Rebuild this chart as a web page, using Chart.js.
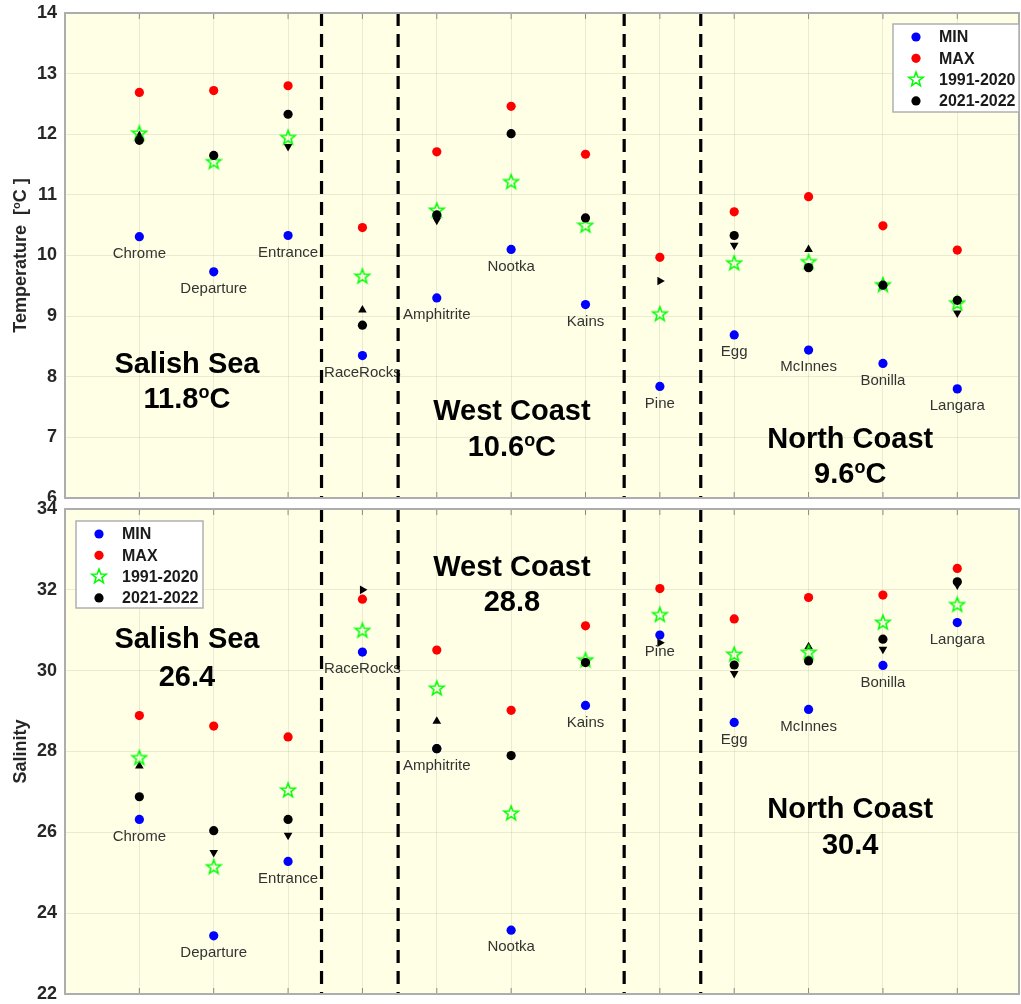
<!DOCTYPE html>
<html>
<head>
<meta charset="utf-8">
<script src="https://cdn.jsdelivr.net/npm/chart.js@4.4.0/dist/chart.umd.min.js"></script>
<style>
body{margin:0;background:#fff;overflow:hidden;}
canvas{display:block;}
</style>
</head>
<body>
<canvas id="tempChart" width="1021" height="501"></canvas>
<canvas id="salChart" width="1021" height="503"></canvas>
<script>
// Stations along the x axis (1..12)
const stations = ['Chrome','Departure','Entrance','RaceRocks','Amphitrite','Nootka','Kains','Pine','Egg','McInnes','Bonilla','Langara'];
const dividers = [3.45, 4.48, 7.52, 8.55];
const regionNames = ['Salish Sea','West Coast','North Coast'];
const seriesNames = ['MIN','MAX','1991-2020','2021-2022'];

// Temperature [oC]
const tempTicks = [6,7,8,9,10,11,12,13,14];
const tempMin = [10.31, 9.73, 10.33, 8.35, 9.30, 10.10, 9.19, 7.84, 8.69, 8.44, 8.22, 7.80];
const tempMax = [12.69, 12.72, 12.80, 10.46, 11.71, 12.46, 11.67, 9.97, 10.72, 10.97, 10.49, 10.09];
const tempClim = [12.02, 11.55, 11.95, 9.66, 10.75, 11.22, 10.50, 9.04, 9.88, 9.90, 9.52, 9.22];
const tempRecent = [11.90, 11.65, 12.33, 8.85, 10.67, 12.01, 10.62, null, 10.33, 9.80, 9.51, 9.26];
const tempTrend = [11.98, null, 11.80, 9.10, 10.58, null, null, 9.58, 10.17, 10.10, null, 9.05];
const tempTrendDir = ['up', null, 'down', 'up', 'down', null, null, 'right', 'down', 'up', null, 'down'];
const tempRegionMeans = ['11.8', '10.6', '9.6'];

// Salinity
const salTicks = [22,24,26,28,30,32,34];
const salMin = [26.32, 23.44, 25.28, 30.46, 28.07, 23.58, 29.14, 30.88, 28.72, 29.04, 30.13, 31.19];
const salMax = [28.89, 28.63, 28.36, 31.77, 30.51, 29.02, 31.11, 32.03, 31.28, 31.81, 31.87, 32.53];
const salClim = [27.85, 25.15, 27.05, 31.00, 29.57, 26.48, 30.27, 31.39, 30.41, 30.46, 31.20, 31.64];
const salRecent = [26.88, 26.04, 26.32, null, 28.07, 27.90, 30.20, null, 30.14, 30.24, 30.78, 32.20];
const salTrend = [27.64, 25.50, 25.93, 32.00, 28.75, null, null, 30.69, 29.93, 30.59, 30.53, 32.12];
const salTrendDir = ['up', 'down', 'down', 'right', 'up', null, null, 'right', 'down', 'up', 'down', 'down'];
const salRegionMeans = ['26.4', '28.8', '30.4'];

const rotations = {up:0, down:180, right:90};
const textColor = '#262626';
const fontFamily = '"Liberation Sans", Arial, sans-serif';

function makeStar(){
  const c = document.createElement('canvas');
  c.width = 18; c.height = 18;
  const g = c.getContext('2d');
  g.beginPath();
  for(let i=0;i<10;i++){
    const r = i%2===0 ? 7.5 : 3.1;
    const a = -Math.PI/2 + i*Math.PI/5;
    g.lineTo(9 + r*Math.cos(a), 9.6 + r*Math.sin(a));
  }
  g.closePath();
  g.strokeStyle = '#00ff00';
  g.lineWidth = 1.5;
  g.stroke();
  return c;
}
const starImg = makeStar();

const pts = arr => arr.map((v,i)=>v==null?null:{x:i+1,y:v}).filter(Boolean);

function buildDatasets(min, max, clim, recent, trend, dir, yMin, yMax){
  const ds = [
    {label:'2021-2022', data:pts(recent), pointStyle:'circle', pointRadius:4.6, backgroundColor:'#000', borderColor:'#000', borderWidth:0, order:1},
    {label:'1991-2020', data:pts(clim), pointStyle:starImg, pointRadius:8, order:2},
    {label:'trend', data:trend.map((v,i)=>v==null?null:{x:i+1,y:v,dir:dir[i]}).filter(Boolean),
      pointStyle:'triangle', pointRadius:5, backgroundColor:'#000', borderColor:'#000', borderWidth:0,
      pointRotation:c=>rotations[c.raw.dir], order:3},
    {label:'MAX', data:pts(max), pointStyle:'circle', pointRadius:4.6, backgroundColor:'#ff0000', borderColor:'#ff0000', borderWidth:0, order:4},
    {label:'MIN', data:pts(min), pointStyle:'circle', pointRadius:4.6, backgroundColor:'#0000ff', borderColor:'#0000ff', borderWidth:0, order:5}
  ];
  dividers.forEach(d=>{
    ds.push({label:'divider', data:[{x:d,y:yMax},{x:d,y:yMin}], showLine:true, pointRadius:0,
      borderColor:'#000', borderWidth:3.2, borderDash:[13,8], order:6});
  });
  return ds;
}

// draw a string made of normal and raised parts, centred on x
function drawParts(ctx, parts, x, baseline, size, bold){
  const w = parts.reduce((s,p)=>{
    ctx.font = (bold?'bold ':'') + (p.sup?size*0.62:size) + 'px ' + fontFamily;
    return s + ctx.measureText(p.t).width;
  },0);
  let cx = x - w/2;
  ctx.textAlign = 'left';
  ctx.textBaseline = 'alphabetic';
  parts.forEach(p=>{
    ctx.font = (bold?'bold ':'') + (p.sup?size*0.62:size) + 'px ' + fontFamily;
    ctx.fillText(p.t, cx, p.sup ? baseline - size*0.36 : baseline);
    cx += ctx.measureText(p.t).width;
  });
}

const panelPlugin = {
  id:'panel',
  beforeDraw(chart, args, o){
    const {ctx, chartArea:a} = chart;
    ctx.save();
    ctx.fillStyle = '#ffffe6';
    ctx.fillRect(a.left, a.top, a.right-a.left, a.bottom-a.top);
    ctx.restore();
  },
  beforeDatasetsDraw(chart, args, o){
    const {ctx, scales:{x,y}} = chart;
    ctx.save();
    // station names under MIN markers
    ctx.fillStyle = '#333';
    ctx.font = '15px ' + fontFamily;
    ctx.textAlign = 'center';
    ctx.textBaseline = 'middle';
    stations.forEach((s,i)=>{
      ctx.fillText(s, x.getPixelForValue(i+1), y.getPixelForValue(o.mins[i]) + 17);
    });
    // region names + means
    ctx.fillStyle = '#000';
    regionNames.forEach((r,i)=>{
      const p = o.regionPos[i];
      const px = x.getPixelForValue(p[0]);
      const py1 = y.getPixelForValue(p[1]);
      const py2 = y.getPixelForValue(p[2]);
      drawParts(ctx, [{t:r}], px, py1 + 10, 29, true);
      const parts = o.unit ? [{t:o.means[i]},{t:'o',sup:true},{t:'C'}] : [{t:o.means[i]}];
      drawParts(ctx, parts, px, py2 + 10, 29, true);
    });
    ctx.restore();
  },
  afterDraw(chart, args, o){
    const {ctx, chartArea:a, scales:{x}} = chart;
    ctx.save();
    // inward tick marks
    ctx.strokeStyle = '#8a8a8a';
    ctx.lineWidth = 1;
    stations.forEach((s,i)=>{
      const px = x.getPixelForValue(i+1);
      ctx.beginPath();
      ctx.moveTo(px, a.bottom); ctx.lineTo(px, a.bottom-6);
      ctx.moveTo(px, a.top); ctx.lineTo(px, a.top+6);
      ctx.stroke();
    });
    // axes box
    ctx.strokeStyle = '#adadad';
    ctx.lineWidth = 2;
    ctx.strokeRect(a.left, a.top, a.right-a.left, a.bottom-a.top);
    // y title
    ctx.fillStyle = textColor;
    ctx.translate(20, (a.top+a.bottom)/2);
    ctx.rotate(-Math.PI/2);
    drawParts(ctx, o.title, 0, 6, 18, true);
    ctx.restore();

    // legend
    const L = o.legend;
    const bx = L.right ? a.right - L.w : a.left + L.dx;
    const by = a.top + L.dy;
    ctx.save();
    ctx.fillStyle = '#fff';
    ctx.fillRect(bx, by, L.w, L.h);
    ctx.strokeStyle = '#b0b0b0';
    ctx.lineWidth = 1.5;
    ctx.strokeRect(bx, by, L.w, L.h);
    const colors = ['#0000ff','#ff0000',null,'#000'];
    seriesNames.forEach((n,i)=>{
      const ry = by + 13 + i*21.3;
      const mx = bx + 23;
      if(colors[i]){
        ctx.fillStyle = colors[i];
        ctx.beginPath(); ctx.arc(mx, ry, 4.6, 0, Math.PI*2); ctx.fill();
      } else {
        ctx.drawImage(starImg, mx-9, ry-9.6);
      }
      ctx.fillStyle = '#1a1a1a';
      ctx.font = 'bold 16px ' + fontFamily;
      ctx.textAlign = 'left';
      ctx.textBaseline = 'middle';
      ctx.fillText(n, bx + 46, ry + 1);
    });
    ctx.restore();
  }
};

function makeChart(id, datasets, yMin, yMax, padding, panelOpts){
  return new Chart(document.getElementById(id).getContext('2d'), {
    type:'scatter',
    data:{datasets},
    options:{
      responsive:false,
      animation:false,
      layout:{padding, autoPadding:false},
      plugins:{legend:{display:false}, tooltip:{enabled:false}, panel:panelOpts},
      scales:{
        x:{type:'linear', min:0, max:12.83,
          afterBuildTicks:s=>{ s.ticks = stations.map((n,i)=>({value:i+1})); },
          afterFit:s=>{ s.height = 0; },
          ticks:{display:false},
          grid:{color:'rgba(60,60,30,0.10)', lineWidth:1, drawTicks:false},
          border:{display:false}},
        y:{min:yMin, max:yMax,
          afterBuildTicks:s=>{ s.ticks = panelOpts.ticks.map(v=>({value:v})); },
          afterFit:s=>{ s.width = 65; s.paddingTop = 0; s.paddingBottom = 0; },
          ticks:{color:textColor, padding:8, font:{size:18, weight:'bold', family:fontFamily, lineHeight:0.4}},
          grid:{color:'rgba(60,60,30,0.10)', lineWidth:1, drawTicks:false},
          border:{display:false}}
      }
    },
    plugins:[panelPlugin]
  });
}

let tempChart = makeChart('tempChart',
  buildDatasets(tempMin, tempMax, tempClim, tempRecent, tempTrend, tempTrendDir, 6, 14),
  6, 14, {top:13, bottom:3, left:0, right:2},
  {ticks:tempTicks, mins:tempMin, means:tempRegionMeans, unit:true,
   regionPos:[[1.64,8.22,7.65],[6.01,7.45,6.85],[10.56,6.99,6.41]],
   title:[{t:'Temperature  ['},{t:'o',sup:true},{t:'C ]'}],
   legend:{right:true, dx:0, dy:11, w:126, h:88}});

let salChart = makeChart('salChart',
  buildDatasets(salMin, salMax, salClim, salRecent, salTrend, salTrendDir, 22, 34),
  22, 34, {top:8, bottom:10, left:0, right:2},
  {ticks:salTicks, mins:salMin, means:salRegionMeans, unit:false,
   regionPos:[[1.64,30.80,29.86],[6.01,32.59,31.72],[10.56,26.59,25.72]],
   title:[{t:'Salinity'}],
   legend:{right:false, dx:11, dy:12, w:127, h:87}});
</script>
</body>
</html>
